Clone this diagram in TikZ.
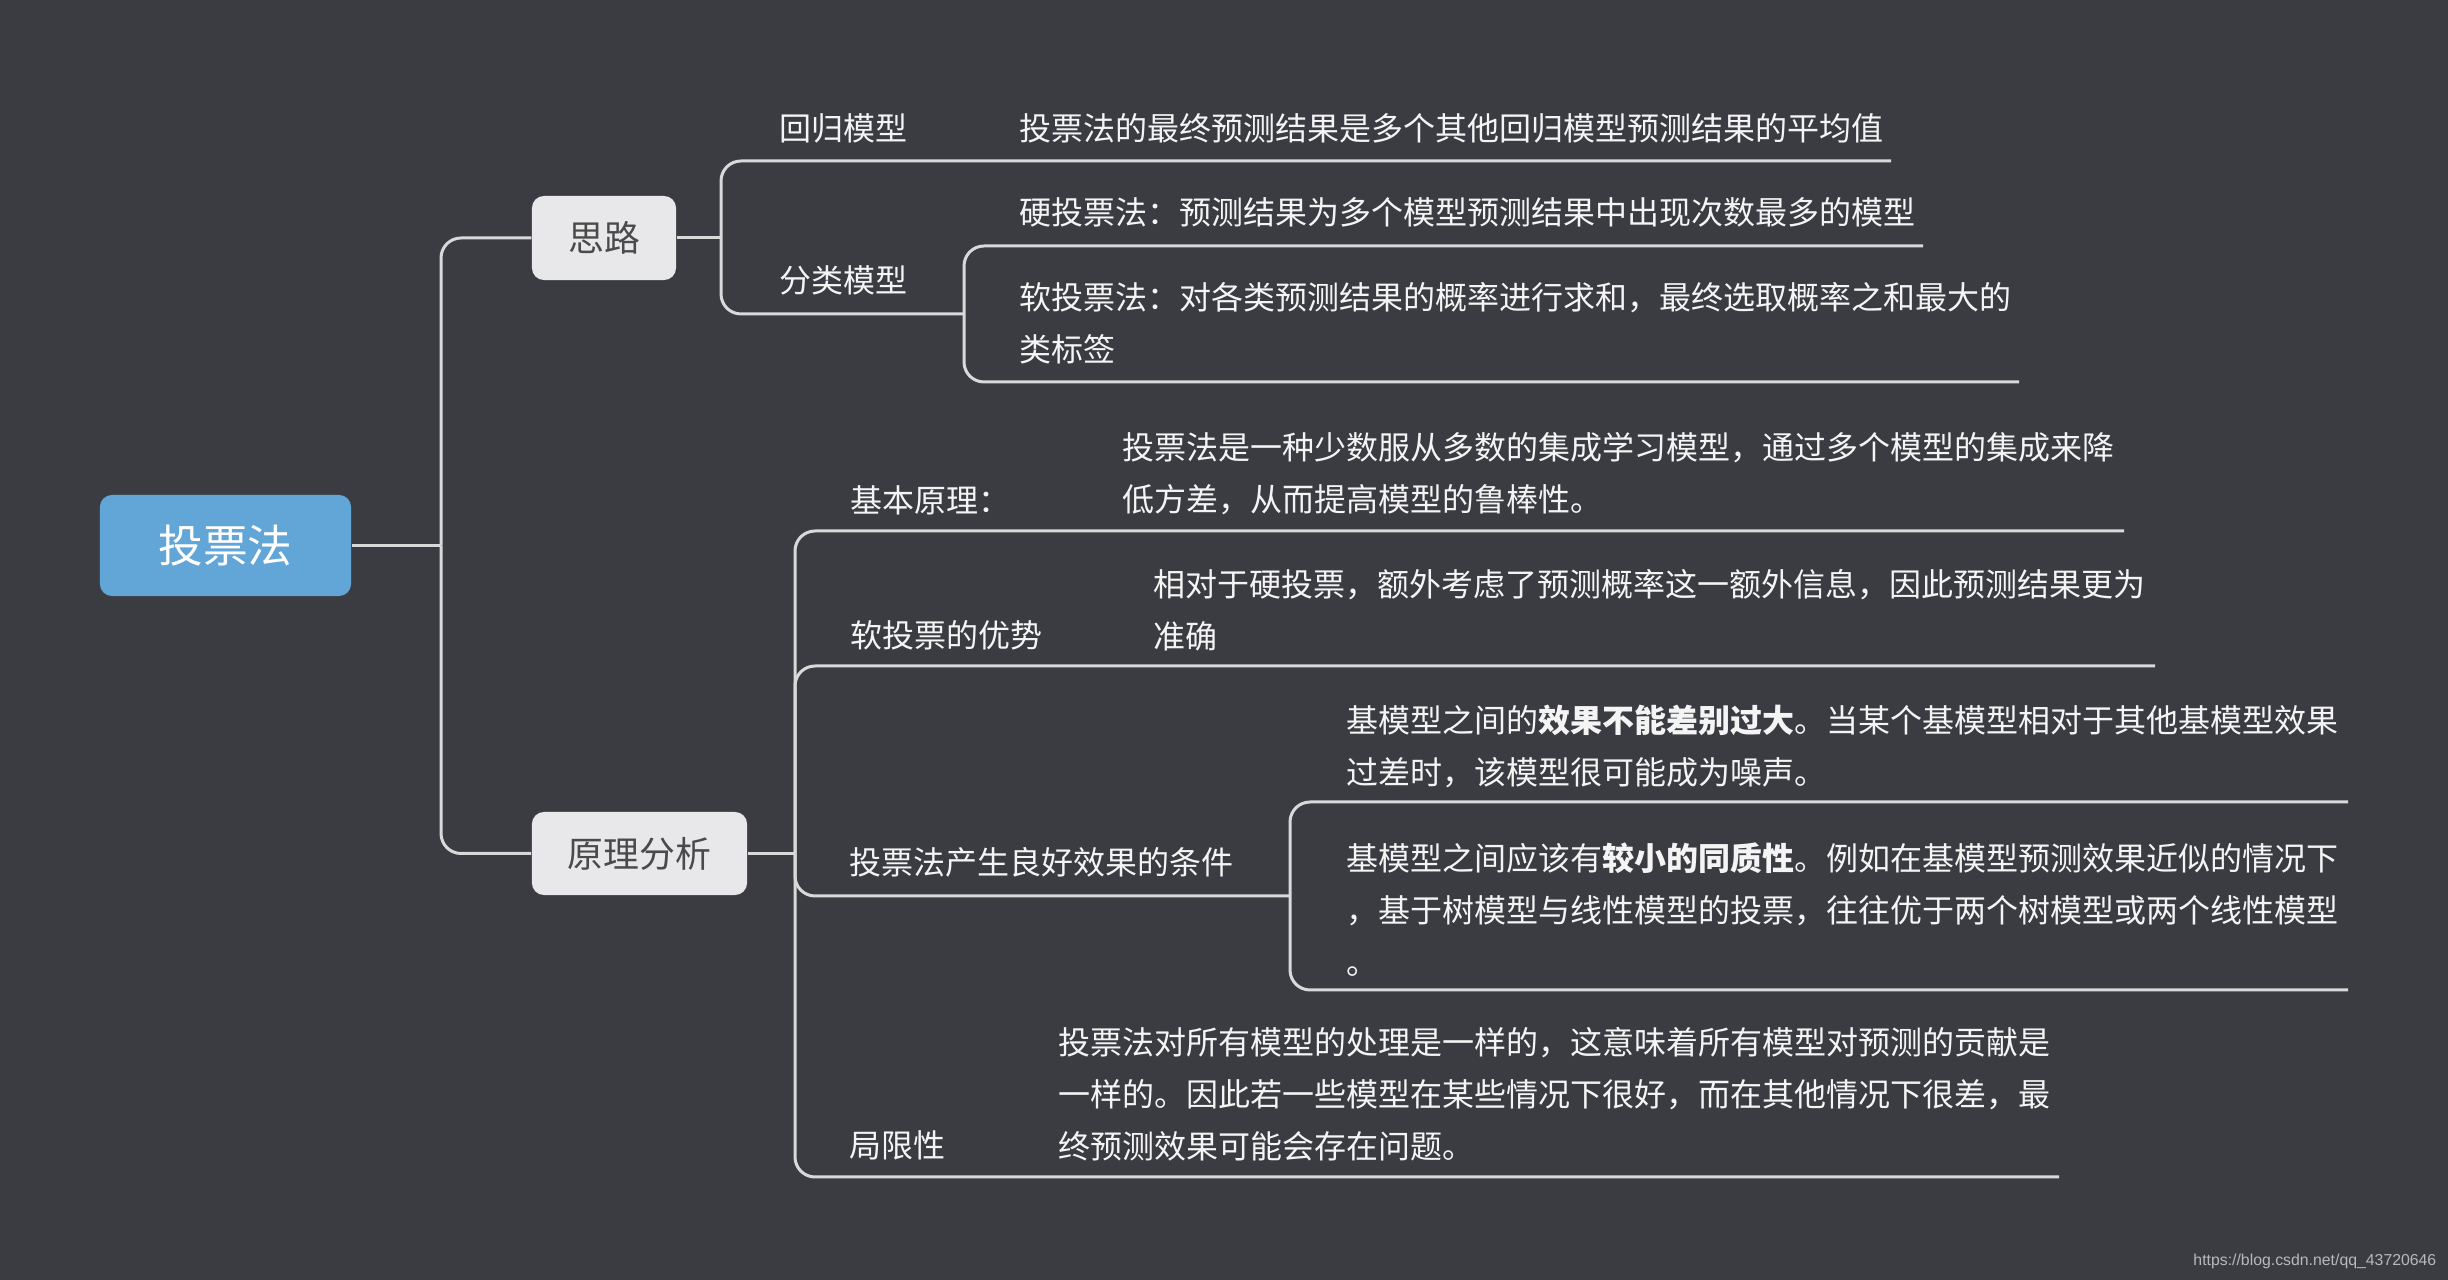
\documentclass[tikz,border=0pt]{standalone}
\usepackage{fontspec}
\newfontfamily\cjk{Noto Sans CJK SC}
\setsansfont{Liberation Sans}
\definecolor{bgdark}{HTML}{3B3C42}
\definecolor{rootblue}{HTML}{62A6D8}
\definecolor{topicgray}{HTML}{E8E8EA}
\definecolor{topictext}{HTML}{4A4A4A}
\definecolor{linegray}{HTML}{D9D9D9}
\definecolor{leafwhite}{HTML}{F4F4F4}
\definecolor{markgray}{HTML}{B8B8BC}

\begin{document}
\begin{tikzpicture}[x=0.01cm, y=-0.01cm, line join=round,
	rootbox/.style={fill=rootblue, rounded corners=0.12cm, inner sep=0pt, minimum width=2.51cm, minimum height=1.01cm, text=white, font={\cjk\fontsize{12.7}{15}\selectfont}},
	topicbox/.style={fill=topicgray, rounded corners=0.12cm, inner sep=0pt, minimum height=0.84cm, text=topictext, font={\cjk\fontsize{10.2}{12}\selectfont}},
	leaftext/.style={anchor=west, inner sep=0pt, align=left, text=leafwhite, font={\cjk\fontsize{9.1}{14.8}\selectfont}},
	branch/.style={draw=linegray, line width=0.03cm, rounded corners=0.2cm}]
	%Background
	\useasboundingbox (0,0) rectangle (2448,1280);
	\fill[bgdark] (0,0) rectangle (2448,1280);

	%Topics
	\node[rootbox] (root) at (225.5,545.5) {投票法};
	\node[topicbox, minimum width=1.44cm] (silu) at (604,238) {思路};
	\node[topicbox, minimum width=2.15cm, minimum height=0.83cm] (yuanli) at (639.5,853.5) {原理分析};

	%Leaves of the first topic
	\node[leaftext] (huigui) at (779,128) {回归模型};
	\node[leaftext] (huiguiT) at (1019,128) {投票法的最终预测结果是多个其他回归模型预测结果的平均值};
	\node[leaftext] (fenlei) at (779,280) {分类模型};
	\node[leaftext] (ying) at (1019,212) {硬投票法：预测结果为多个模型预测结果中出现次数最多的模型};
	\node[leaftext] (ruan) at (1019,323) {软投票法：对各类预测结果的概率进行求和，最终选取概率之和最大的\\类标签};

	%Leaves of the second topic
	\node[leaftext] (jiben) at (850,500) {基本原理：};
	\node[leaftext] (jibenT) at (1122,473.5) {投票法是一种少数服从多数的集成学习模型，通过多个模型的集成来降\\低方差，从而提高模型的鲁棒性。};
	\node[leaftext] (youshi) at (850,635) {软投票的优势};
	\node[leaftext] (youshiT) at (1153,610) {相对于硬投票，额外考虑了预测概率这一额外信息，因此预测结果更为\\准确};
	\node[leaftext] (tiaojian) at (849,862) {投票法产生良好效果的条件};
	\node[leaftext] (xiaoguo) at (1346,746) {基模型之间的\textbf{效果不能差别过大}。当某个基模型相对于其他基模型效果\\过差时，该模型很可能成为噪声。};
	\node[leaftext] (tongzhi) at (1346,910) {基模型之间应该有\textbf{较小的同质性}。例如在基模型预测效果近似的情况下\\，基于树模型与线性模型的投票，往往优于两个树模型或两个线性模型\\。};
	\node[leaftext] (juxian) at (849,1145) {局限性};
	\node[leaftext] (juxianT) at (1058,1094) {投票法对所有模型的处理是一样的，这意味着所有模型对预测的贡献是\\一样的。因此若一些模型在某些情况下很好，而在其他情况下很差，最\\终预测效果可能会存在问题。};

	%Coordinates
	%Brackets
	\coordinate (t0) at (441,545.5);
	\coordinate (s0) at (721,238);
	\coordinate (f0) at (964,314);
	\coordinate (y0) at (795,853.5);
	\coordinate (c0) at (1290,896);
	%Underline ends
	\coordinate (huiguiEnd) at (1891,161);
	\coordinate (yingEnd) at (1923,246);
	\coordinate (ruanEnd) at (2019,382);
	\coordinate (jibenEnd) at (2124,531);
	\coordinate (youshiEnd) at (2155,666);
	\coordinate (xiaoguoEnd) at (2348,802);
	\coordinate (tongzhiEnd) at (2348,990);
	\coordinate (juxianEnd) at (2059,1177);

	%Connectors
	\draw[branch] (root.east) -- (t0);
	\draw[branch] (t0) |- (silu.west);
	\draw[branch] (t0) |- (yuanli.west);

	\draw[branch] (silu.east) -- (s0);
	\draw[branch] (s0) |- (huiguiEnd);
	\draw[branch] (s0) |- (f0);
	\draw[branch] (f0) |- (yingEnd);
	\draw[branch] (f0) |- (ruanEnd);

	\draw[branch] (yuanli.east) -- (y0);
	\draw[branch] (y0) |- (jibenEnd);
	\draw[branch] (y0) |- (youshiEnd);
	\draw[branch] (y0) |- (c0);
	\draw[branch] (c0) |- (xiaoguoEnd);
	\draw[branch] (c0) |- (tongzhiEnd);
	\draw[branch] (y0) |- (juxianEnd);

	%Watermark
	\node[anchor=east, inner sep=0pt, text=markgray, font={\sffamily\fontsize{4.5}{5}\selectfont}] (mark) at (2437,1261) {https://blog.csdn.net/qq\_43720646};
\end{tikzpicture}
\end{document}
